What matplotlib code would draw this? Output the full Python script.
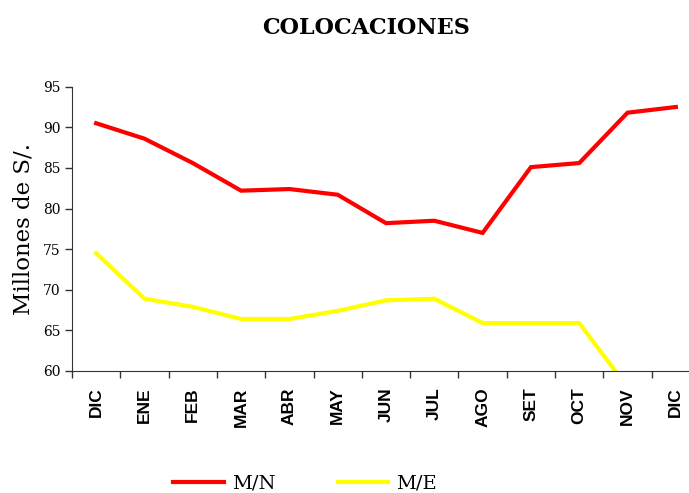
import numpy as np
import matplotlib.pyplot as plt
from matplotlib.lines import Line2D

# months (Dec to Dec)
meses = ["DIC", "ENE", "FEB", "MAR", "ABR", "MAY", "JUN",
         "JUL", "AGO", "SET", "OCT", "NOV", "DIC"]
# Moneda nacional, millones de S/.
mn = [90.5, 88.6, 85.6, 82.2, 82.4, 81.7, 78.2, 78.5, 77.0, 85.1, 85.6, 91.8, 92.5]
# Moneda extranjera
me = [74.5, 68.9, 67.9, 66.4, 66.4, 67.4, 68.7, 68.9, 65.9, 65.9, 65.9, 58.0, 58.0]

serif = "DejaVu Serif"

fig = plt.figure(figsize=(6.89, 4.93), dpi=100)
ax = fig.add_axes([72/689, 122/493, 628/689, 284.3/493])

x = np.arange(len(meses))
ax.plot(x, mn, color="#ff0000", lw=3, solid_joinstyle="miter")
ax.plot(x, me, color="#ffff00", lw=3, solid_joinstyle="miter")

ax.set_xlim(-0.5, len(meses) - 0.5)
ax.set_ylim(60, 95)
ax.set_yticks(np.arange(60, 96, 5))
ax.set_xticks(np.arange(-0.5, len(meses), 1))
ax.set_xticklabels([])
ax.set_xticks(x, minor=True)
ax.set_xticklabels(meses, minor=True, rotation=90, fontsize=12.5,
                   fontweight="bold", family="Liberation Sans")
ax.tick_params(axis="x", which="minor", length=0, pad=12)
ax.tick_params(axis="x", which="major", length=5, width=1, color="#333333")
ax.tick_params(axis="y", length=5, width=1, color="#333333", labelsize=10)
for lbl in ax.get_yticklabels():
    lbl.set_family(serif)

for s in ["top", "right"]:
    ax.spines[s].set_visible(False)
for s in ["left", "bottom"]:
    ax.spines[s].set_color("#333333")

ax.set_ylabel("Millones de S/.", family=serif, fontsize=16.5, labelpad=6)
fig.text(366/689, 1 - 28/493, "COLOCACIONES", ha="center", va="center",
         family=serif, fontweight="bold", fontsize=16)

handles = [Line2D([], [], color="#ff0000", lw=3),
           Line2D([], [], color="#ffff00", lw=3)]
fig.legend(handles, ["M/N", "M/E"], loc="center", ncol=2,
           bbox_to_anchor=(305/689, 9/493), frameon=False,
           prop={"family": serif, "size": 14}, handlelength=2.6,
           handletextpad=0.4, columnspacing=3.2)

fig.savefig("out.png", dpi=100)
